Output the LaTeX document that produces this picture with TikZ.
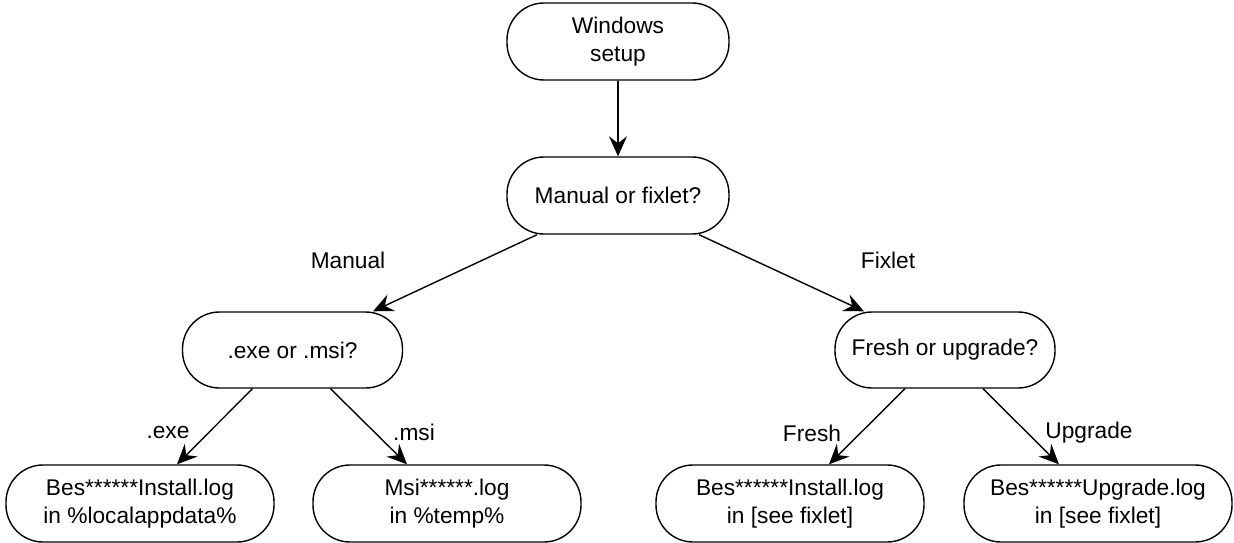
\documentclass[tikz,border=0pt]{standalone}
\usepackage{fontspec}
\setmainfont{Liberation Sans}
\usetikzlibrary{arrows.meta}
\begin{document}
\begin{tikzpicture}[x=1pt,y=-1pt,
  term/.style={draw=black, line width=1.4pt, rounded corners=37pt, fill=white,
    minimum height=77pt, align=center, inner sep=0pt,
    font=\fontsize{22.7}{27.5}\selectfont},
  lbl/.style={font=\fontsize{22.7}{27.5}\selectfont, inner sep=0pt},
  conn/.style={draw=black, line width=1.4pt,
    -{Stealth[length=20pt, width=18pt, inset=7pt]}}]
\useasboundingbox (0,0) rectangle (1234,543);
\fill[white] (0,0) rectangle (1234,543);

\node[term, minimum width=222pt] (ws) at (618,41.5) {Windows\\setup};
\node[term, minimum width=222pt] (mf) at (618,195.5) {Manual or fixlet?};
\node[term, minimum width=220pt, minimum height=76pt] (em) at (292.5,350) {.exe or .msi?};
\node[term, minimum width=220pt, minimum height=76pt] (fu) at (945,350) {Fresh or upgrade?};
\node[term, minimum width=268pt] (b1) at (140,503.5) {Bes******Install.log\\in \%localappdata\%};
\node[term, minimum width=268pt] (b2) at (447,503.5) {Msi******.log\\in \%temp\%};
\node[term, minimum width=268pt] (b3) at (790,503.5) {Bes******Install.log\\in [see fixlet]};
\node[term, minimum width=268pt] (b4) at (1098,503.5) {Bes******Upgrade.log\\in [see fixlet]};

\draw[conn] (ws.south) -- (mf.north);
\draw[conn] ([xshift=-81pt]mf.south) -- ([xshift=80.5pt]em.north);
\draw[conn] ([xshift=81pt]mf.south) -- ([xshift=-81pt]fu.north);
\draw[conn] ([xshift=-40pt]em.south) -- ([xshift=37pt]b1.north);
\draw[conn] ([xshift=38pt]em.south) -- ([xshift=-40pt]b2.north);
\draw[conn] ([xshift=-40pt]fu.south) -- ([xshift=39pt]b3.north);
\draw[conn] ([xshift=38pt]fu.south) -- ([xshift=-39pt]b4.north);

\node[lbl] (lm) at (348,260) {Manual};
\node[lbl] (lf) at (888,260) {Fixlet};
\node[lbl] (le) at (168,432) {.exe};
\node[lbl] (ls) at (414,432) {.msi};
\node[lbl] (lr) at (812,433) {Fresh};
\node[lbl] (lu) at (1089,433) {Upgrade};
\end{tikzpicture}
\end{document}
